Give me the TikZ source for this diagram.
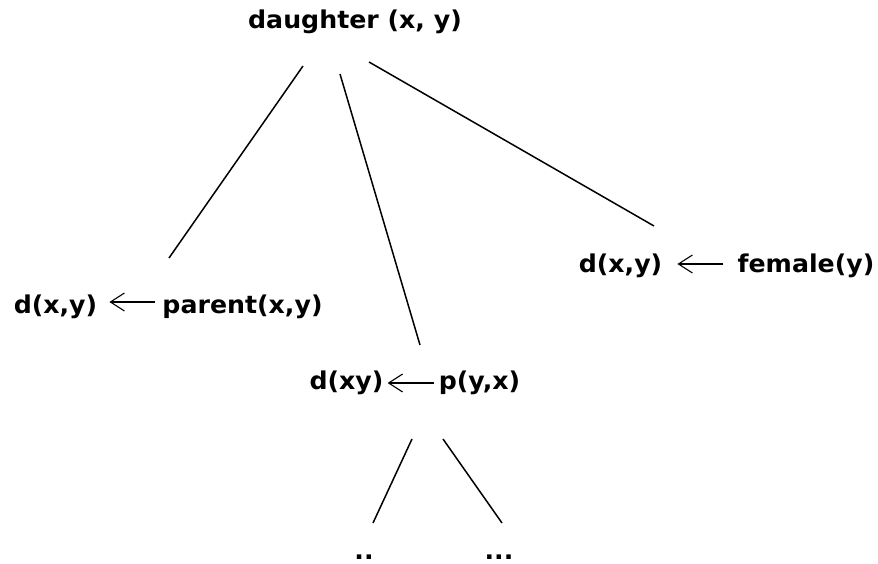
\documentclass[tikz,border=0pt]{standalone}
\usepackage{fontspec}
\setmainfont[FakeStretch=1.03]{DejaVu Sans}
\usetikzlibrary{arrows.meta}
\begin{document}
\begin{tikzpicture}[x=1pt,y=-1pt,
  lbl/.style={inner sep=0pt,anchor=base,font=\fontsize{24.5pt}{27pt}\selectfont\bfseries},
  edge/.style={line width=1.5pt,black},
  impl/.style={line width=2.2pt,-{Straight Barb[length=14pt,width=18pt,line width=1.1pt]}}]
\useasboundingbox (0,0) rectangle (878,564);
% nodes
\node[lbl] (root) at (355,29) {daughter (x, y)};
\node[lbl] (d1) at (55.5,313) {d(x,y)};
\node[lbl] (par) at (242.5,313) {parent(x,y)};
\node[lbl] (d3) at (346.5,389) {d(xy)};
\node[lbl] (p3) at (479.5,389) {p(y,x)};
\node[lbl] (d2) at (620.5,272) {d(x,y)};
\node[lbl] (fem) at (806,272) {female(y)};
\node[lbl] (dots2) at (364,559) {..};
\node[lbl] (dots3) at (499,559) {...};
% connector end points
\coordinate (a1) at (303,66);
\coordinate (b1) at (169,258);
\coordinate (a2) at (340,74);
\coordinate (b2) at (420,345);
\coordinate (a3) at (369,62);
\coordinate (b3) at (654,226);
\coordinate (a4) at (412,439);
\coordinate (b4) at (373,523);
\coordinate (a5) at (443,439);
\coordinate (b5) at (502,523);
\draw[edge] (a1) -- (b1);
\draw[edge] (a2) -- (b2);
\draw[edge] (a3) -- (b3);
\draw[edge] (a4) -- (b4);
\draw[edge] (a5) -- (b5);
% implication arrows
\draw[impl,shorten <=7pt,shorten >=12pt] ([yshift=11pt]par.base west) -- ([yshift=11pt]par.base west -| d1.east);
\draw[impl,shorten <=5pt,shorten >=4pt] ([yshift=6pt]p3.base west) -- ([yshift=6pt]p3.base west -| d3.east);
\draw[impl,shorten <=14pt,shorten >=15pt] ([yshift=8pt]fem.base west) -- ([yshift=8pt]fem.base west -| d2.east);
\end{tikzpicture}
\end{document}
